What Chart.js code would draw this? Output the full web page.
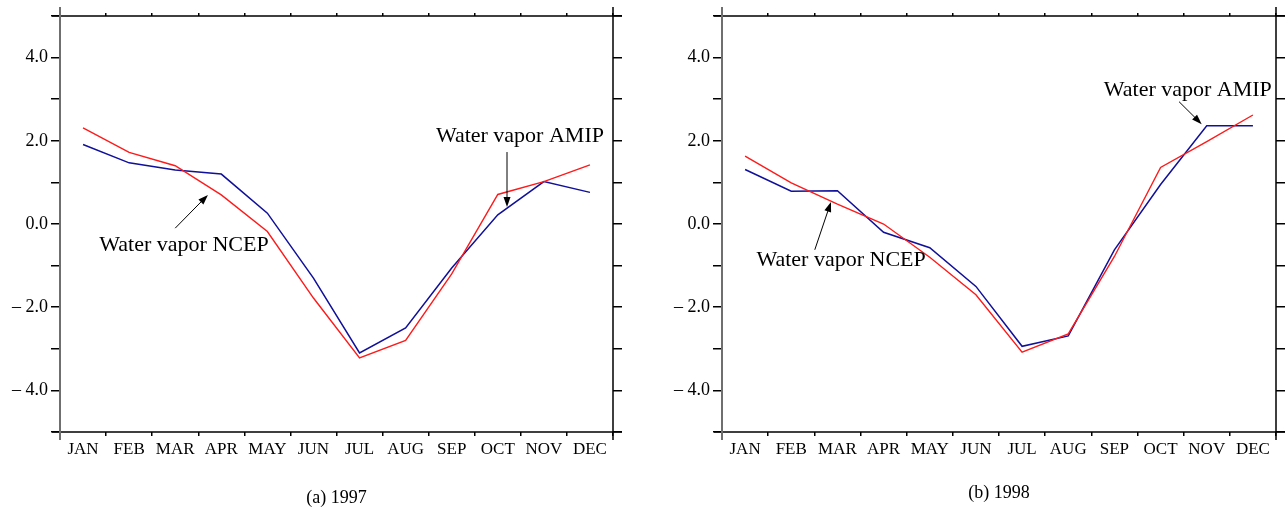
<!DOCTYPE html>
<html>
<head>
<meta charset="utf-8">
<script src="https://cdn.jsdelivr.net/npm/chart.js@4.4.1/dist/chart.umd.min.js"></script>
<style>
  body { margin: 0; background: #fff; }
  .panel { position: absolute; top: 0; }
</style>
</head>
<body>
<div class="panel" style="left:0px"><canvas id="chart1997" width="640" height="509"></canvas></div>
<div class="panel" style="left:660px"><canvas id="chart1998" width="625" height="509"></canvas></div>
<script>
// mesi sull'asse x
const months = ['JAN', 'FEB', 'MAR', 'APR', 'MAY', 'JUN', 'JUL', 'AUG', 'SEP', 'OCT', 'NOV', 'DEC']
// valori con etichetta sull'asse y
const yLabels = [-4, -2, 0, 2, 4]

// serie 1997
const ncep1997 = [2.31, 1.72, 1.40, 0.70, -0.18, -1.78, -3.22, -2.80, -1.20, 0.71, 1.02, 1.42]
const amip1997 = [1.91, 1.47, 1.30, 1.20, 0.26, -1.30, -3.10, -2.50, -1.06, 0.22, 1.02, 0.76]

// serie 1998
const ncep1998 = [1.63, 0.99, 0.48, 0.00, -0.80, -1.70, -3.08, -2.64, -0.78, 1.36, 1.98, 2.62]
const amip1998 = [1.31, 0.79, 0.80, -0.20, -0.57, -1.50, -2.94, -2.69, -0.62, 0.95, 2.36, 2.36]

// etichette con freccia (in unita' dei dati: indice mese, valore)
const notes1997 = [
  { text: 'Water vapor NCEP', x: 2.19, y: -0.65, from: [2.0, -0.10], to: [2.71, 0.70] },
  { text: 'Water vapor AMIP', x: 9.48, y: 1.98, from: [9.2, 1.73], to: [9.2, 0.41] },
]
const notes1998 = [
  { text: 'Water vapor NCEP', x: 2.08, y: -1.02, from: [1.51, -0.62], to: [1.86, 0.53] },
  { text: 'Water vapor AMIP', x: 9.59, y: 3.07, from: [9.40, 2.94], to: [9.89, 2.40] },
]

const serif = '"Liberation Serif", "Times New Roman", serif'

function fmtY(v) {
  if (!yLabels.includes(v)) return ''
  return v < 0 ? '\u2013 ' + (-v).toFixed(1) : v.toFixed(1)
}

function drawArrow(ctx, x1, y1, x2, y2) {
  const a = Math.atan2(y2 - y1, x2 - x1)
  const len = 10
  const half = 3.5
  ctx.beginPath()
  ctx.moveTo(x1, y1)
  ctx.lineTo(x2 - Math.cos(a) * len * 0.7, y2 - Math.sin(a) * len * 0.7)
  ctx.stroke()
  ctx.beginPath()
  ctx.moveTo(x2, y2)
  ctx.lineTo(x2 - Math.cos(a) * len + Math.sin(a) * half, y2 - Math.sin(a) * len - Math.cos(a) * half)
  ctx.lineTo(x2 - Math.cos(a) * len - Math.sin(a) * half, y2 - Math.sin(a) * len + Math.cos(a) * half)
  ctx.closePath()
  ctx.fill()
}

function makeChart(id, ncep, amip, title, notes, sizes) {
  // cornice con le linee che sporgono oltre gli angoli + annotazioni
  const framePlugin = {
    id: 'frame',
    afterDraw: function (chart) {
      const ctx = chart.ctx
      const a = chart.chartArea
      const xs = chart.scales.x
      const ys = chart.scales.y
      ctx.save()
      ctx.lineCap = 'butt'
      ctx.strokeStyle = '#000'
      ctx.lineWidth = 1.5
      ctx.beginPath()
      ctx.moveTo(a.left - 8, a.top); ctx.lineTo(a.right + 9, a.top)
      ctx.moveTo(a.left - 8, a.bottom); ctx.lineTo(a.right + 9, a.bottom)
      ctx.moveTo(a.right, a.top - 9); ctx.lineTo(a.right, a.bottom + 8)
      ctx.stroke()
      ctx.strokeStyle = '#6f6f6f'
      ctx.lineWidth = 2
      ctx.beginPath()
      ctx.moveTo(a.left, a.top - 9); ctx.lineTo(a.left, a.bottom + 8)
      ctx.stroke()

      ctx.fillStyle = '#000'
      ctx.strokeStyle = '#000'
      ctx.lineWidth = 1
      ctx.font = '22px ' + serif
      ctx.textAlign = 'center'
      ctx.textBaseline = 'alphabetic'
      notes.forEach(function (n) {
        ctx.fillText(n.text, xs.getPixelForValue(n.x), ys.getPixelForValue(n.y))
        drawArrow(ctx,
          xs.getPixelForValue(n.from[0]), ys.getPixelForValue(n.from[1]),
          xs.getPixelForValue(n.to[0]), ys.getPixelForValue(n.to[1]))
      })
      ctx.restore()
    },
  }

  const tickGrid = function (len) {
    return { drawOnChartArea: false, drawTicks: true, tickLength: len, color: '#000', lineWidth: 1.5, offset: true }
  }

  return new Chart(document.getElementById(id).getContext('2d'), {
    type: 'line',
    data: {
      labels: months,
      datasets: [
        { label: 'Water vapor NCEP', data: ncep, borderColor: '#ff1a1a', borderWidth: 1.4, pointRadius: 0, tension: 0, xAxisID: 'x', yAxisID: 'y' },
        { label: 'Water vapor AMIP', data: amip, borderColor: '#10109a', borderWidth: 1.5, pointRadius: 0, tension: 0, xAxisID: 'x', yAxisID: 'y' },
      ],
    },
    options: {
      responsive: false,
      animation: false,
      devicePixelRatio: 1,
      layout: { padding: 0 },
      events: [],
      plugins: {
        legend: { display: false },
        tooltip: { enabled: false },
        title: {
          display: true,
          text: title,
          position: 'bottom',
          fullSize: false,
          color: '#000',
          font: { family: serif, size: 18, weight: 'normal' },
          padding: { top: 0, bottom: sizes.titlePad },
        },
      },
      scales: {
        x: {
          type: 'category',
          position: 'bottom',
          offset: true,
          border: { display: false },
          grid: tickGrid(4),
          ticks: { color: '#000', font: { family: serif, size: 17 }, padding: 3, maxRotation: 0, autoSkip: false },
          afterFit: function (s) { s.height = sizes.xHeight },
        },
        x2: {
          type: 'category',
          position: 'top',
          offset: true,
          border: { display: false },
          grid: tickGrid(3),
          ticks: { display: false },
          afterFit: function (s) { s.height = 16 },
        },
        y: {
          type: 'linear',
          position: 'left',
          min: -5,
          max: 5,
          border: { display: false },
          grid: { drawOnChartArea: false, tickLength: 9, color: '#000', lineWidth: 1.5 },
          ticks: { stepSize: 1, autoSkip: false, color: '#000', font: { family: serif, size: 18 }, padding: 3, callback: fmtY },
          afterFit: function (s) { s.width = sizes.left },
        },
        y2: {
          type: 'linear',
          position: 'right',
          min: -5,
          max: 5,
          border: { display: false },
          grid: { drawOnChartArea: false, tickLength: 9, color: '#000', lineWidth: 1.5 },
          ticks: { stepSize: 1, display: false },
          afterFit: function (s) { s.width = sizes.right },
        },
      },
    },
    plugins: [framePlugin],
  })
}

// (a) 1997: area del grafico da x=60 a x=613, y da 16 a 432
makeChart('chart1997', ncep1997, amip1997, '(a) 1997', notes1997,
  { left: 60, right: 27, xHeight: 55.4, titlePad: 0 })

// (b) 1998: area del grafico da x=722 a x=1276
makeChart('chart1998', ncep1998, amip1998, '(b) 1998', notes1998,
  { left: 62, right: 9, xHeight: 50.4, titlePad: 5 })
</script>
</body>
</html>
